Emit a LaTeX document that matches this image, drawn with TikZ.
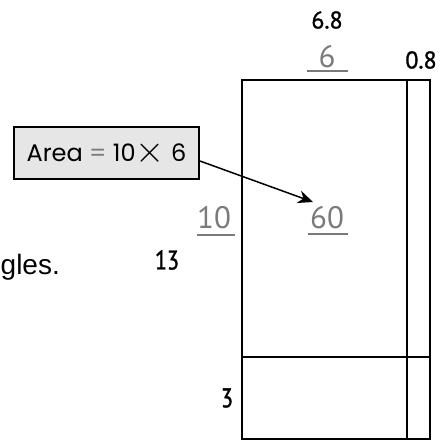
\documentclass[tikz,border=0pt]{standalone}
\usepackage{fontspec}
\setmainfont{PT Sans}
\newfontfamily\boxfont{Poppins}
\newfontfamily\bodyfont{Liberation Sans}
\newfontfamily\medfont[FakeBold=1.2]{PT Sans}
\newfontfamily\narrowfont[FakeStretch=0.82,FakeBold=1.2]{PT Sans}
\usetikzlibrary{arrows.meta}
\definecolor{numgray}{HTML}{7A7A7A}
\definecolor{boxgray}{HTML}{E6E6E6}

\begin{document}
\begin{tikzpicture}[x=1pt,y=-1pt,
 dim/.style={inner sep=0pt,font=\medfont\fontsize{24}{27}\selectfont},
 part/.style={inner sep=0pt,text=numgray,font=\fontsize{31}{34}\selectfont},
 uline/.style={draw=numgray,line width=1.5pt},
 edge/.style={line width=2pt,line cap=rect}]
\useasboundingbox (0,0) rectangle (441,441);

% rectangle split into parts
\draw[edge] (242,80) rectangle (430,439);
\draw[edge] (407,80) -- (407,439);
\draw[edge] (242,357) -- (430,357);

% dimensions
\node[dim] (w) at (327,20) {6.8};
\node[part] (wa) at (327,57) {6};
\draw[uline] (307,71) -- (348,71);
\node[dim] (wb) at (421,60) {0.8};
\node[dim,font=\narrowfont\fontsize{27}{30}\selectfont] (h) at (167,260) {13};
\node[dim,font=\narrowfont\fontsize{27}{30}\selectfont] (hb) at (227,398) {3};
\node[part] (ha) at (214,218) {10};
\draw[uline] (197,235) -- (235,235);
\node[part] (p) at (327,218) {60};
\draw[uline] (308,234) -- (348,234);

% cut-off text
\node[anchor=base west,inner sep=0pt,font=\bodyfont\fontsize{28}{31}\selectfont] (txt) at (0.5,274) {gles.};

% callout
\node[draw,fill=boxgray,line width=1.8pt,minimum width=185pt,minimum height=52pt,inner sep=0pt,font=\boxfont\fontsize{24}{28}\selectfont] (area) at (106.5,153) {Area {\color{numgray}=} 10\raisebox{-0.5pt}{\scalebox{1.5}{$\times$}} 6};
\coordinate (tip) at (313,202);
\draw[line width=1.5pt,-{Stealth[length=15pt,width=13pt]}] (area.east |- 0,161) -- (tip);
\end{tikzpicture}
\end{document}
